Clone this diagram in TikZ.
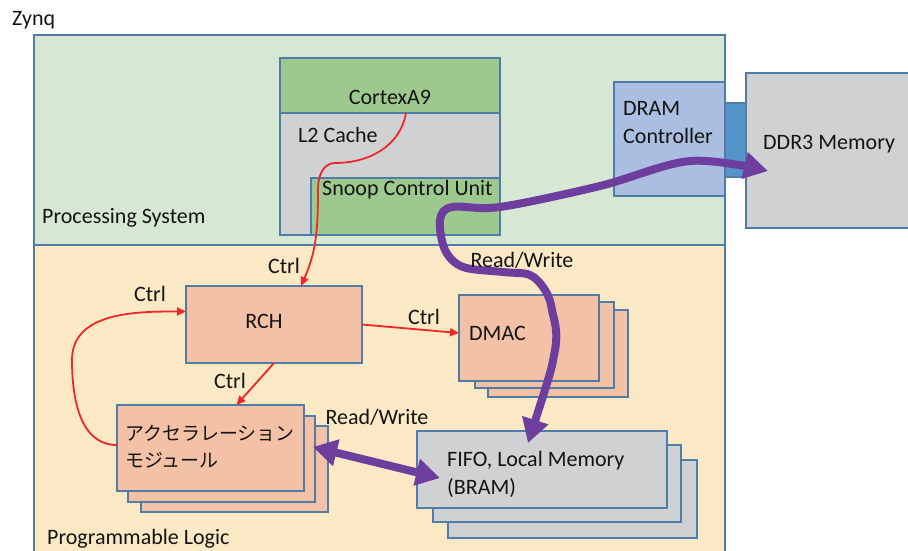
\documentclass[tikz,border=0pt]{standalone}
\usepackage{fontspec}
\setmainfont{Carlito}
\newfontfamily\jpfont{Noto Sans CJK JP}
\usetikzlibrary{positioning, arrows.meta}

\definecolor{psgreen}{RGB}{214,231,211}
\definecolor{plbeige}{RGB}{250,233,196}
\definecolor{cpugreen}{RGB}{157,201,143}
\definecolor{memgray}{RGB}{208,209,211}
\definecolor{ctrlblue}{RGB}{169,190,224}
\definecolor{portblue}{RGB}{84,148,200}
\definecolor{salmon}{RGB}{243,193,166}
\definecolor{edge}{RGB}{80,125,168}
\definecolor{ctrlred}{RGB}{238,40,40}
\definecolor{rwpurple}{RGB}{110,62,158}
\definecolor{ink}{RGB}{20,20,20}

\begin{document}
\begin{tikzpicture}[x=1pt, y=1pt, font=\fontsize{22}{28}\selectfont,
    box/.style={draw=edge, line width=1.1pt, anchor=south west, inner sep=0pt, outer sep=0pt},
    lbl/.style={inner sep=0pt, text=ink},
    ctrl/.style={draw=ctrlred, line width=1.8pt, -{Triangle[length=9pt,width=8pt]}},
    rw/.style={draw=rwpurple, line width=8pt, line join=round,
      {Triangle[length=24pt,width=26pt]}-{Triangle[length=24pt,width=26pt]}}]
    \useasboundingbox (0,0) rectangle (908,550);

    % zynq: processing system and programmable logic
    \node[lbl, anchor=west] (zynq) at (12,530) {Zynq};
    \node[box, fill=plbeige, minimum width=691pt, minimum height=320pt] (pl) at (34,-15) {};
    \node[box, fill=psgreen, minimum width=691pt, minimum height=210pt] (ps) at (34,305) {};
    \node[lbl, anchor=west] (pslbl) at (42,332) {Processing System};
    \node[lbl, anchor=west] (pllbl) at (47,11) {Programmable Logic};

    % cpu side
    \node[box, fill=memgray, minimum width=220pt, minimum height=177pt] (l2) at (280,315) {};
    \node[box, fill=cpugreen, minimum width=220pt, minimum height=55pt] (cortex) at (280,437) {};
    \node[lbl] at (390,453) {CortexA9};
    \node[lbl, anchor=west] at (298,415) {L2 Cache};
    \node[box, fill=cpugreen, minimum width=189pt, minimum height=57pt] (scu) at (311,315) {};
    \node[lbl, anchor=west] at (322,360) {Snoop Control Unit};

    % memory side
    \node[box, fill=portblue, minimum width=21pt, minimum height=74pt] (port) at (725,373) {};
    \node[box, fill=ctrlblue, minimum width=111pt, minimum height=114pt] (dramc) at (614,354) {};
    \node[lbl, anchor=west, align=left] at (623,427) {DRAM\\Controller};
    \node[box, fill=memgray, minimum width=163pt, minimum height=155pt] (ddr) at (746,322) {};
    \node[lbl, anchor=west] at (763,406) {DDR3 Memory};

    % logic side
    \node[box, fill=salmon, minimum width=176pt, minimum height=77pt] (rch) at (186,187) {};
    \node[lbl] at (264,229) {RCH};

    \node[box, fill=salmon, minimum width=140pt, minimum height=87pt] (dmac3) at (488,153) {};
    \node[box, fill=salmon, minimum width=139pt, minimum height=86pt] (dmac2) at (475,162) {};
    \node[box, fill=salmon, minimum width=140pt, minimum height=86pt] (dmac) at (459,169) {};
    \node[lbl, anchor=west] at (469,217) {DMAC};

    \node[box, fill=memgray, minimum width=249pt, minimum height=78pt] (fifo3) at (448,12) {};
    \node[box, fill=memgray, minimum width=248pt, minimum height=77pt] (fifo2) at (433,28) {};
    \node[box, fill=memgray, minimum width=250pt, minimum height=77pt] (fifo) at (417,42) {};
    \node[lbl, anchor=west, align=left] at (447,76) {FIFO, Local Memory\\(BRAM)};

    \node[box, fill=salmon, minimum width=187pt, minimum height=86pt] (acc3) at (141,38) {};
    \node[box, fill=salmon, minimum width=187pt, minimum height=86pt] (acc2) at (128,48) {};
    \node[box, fill=salmon, minimum width=187pt, minimum height=86pt] (acc) at (117,59) {};
    \node[lbl, anchor=west, align=left, font=\jpfont\fontsize{19}{27}\selectfont] at (125,103)
      {アクセラレーション\\モジュール};

    % control lines
    \draw[ctrl] ([xshift=16pt]cortex.south) to[out=-100,in=0] (335,387)
      to[out=180,in=90] (318,362) to[out=-90,in=66] ([xshift=27pt]rch.north);
    \node[lbl] at (284,284) {Ctrl};
    \draw[ctrl] ([yshift=3pt]acc.west) to[out=180,in=-90] (72,190)
      to[out=90,in=180] ([yshift=13pt]rch.west);
    \node[lbl] at (150,256) {Ctrl};
    \draw[ctrl] (rch.east) -- ([yshift=5pt]dmac.west);
    \node[lbl] at (424,233) {Ctrl};
    \draw[ctrl] (rch.south) -- ([xshift=26pt]acc.north);
    \node[lbl] at (230,169) {Ctrl};

    % read/write paths
    \coordinate (fifoin) at (528,107);
    \coordinate (ddrin) at (768,379);
    \draw[rw] plot[smooth, tension=0.55] coordinates {(fifoin) (555,200) (552,240) (545,260)
      (530,275) (503,278) (463,283) (445,300) (440,330) (452,343) (500,343) (600,364)
      (690,389) (ddrin)};
    \node[lbl] at (522,290) {Read/Write};
    \coordinate (accio) at (313,103);
    \coordinate (fifoio) at (440,72);
    \draw[rw] (accio) -- (fifoio);
    \node[lbl] at (377,133) {Read/Write};
\end{tikzpicture}
\end{document}
